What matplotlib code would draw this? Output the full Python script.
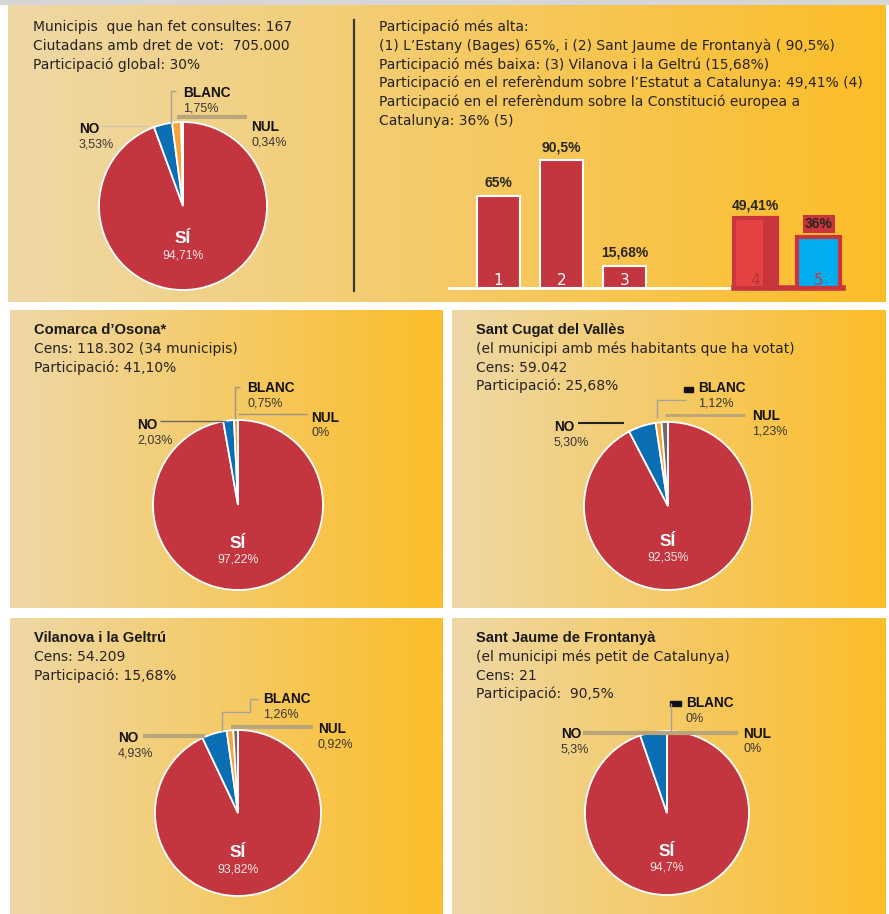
import matplotlib
matplotlib.use('Agg')
import matplotlib.pyplot as plt
import numpy as np
from matplotlib.patches import Rectangle
from matplotlib.colors import to_rgb

# ---------------- data ----------------
categories = ['SÍ', 'NO', 'BLANC', 'NUL']

global_pct = [94.71, 3.53, 1.75, 0.34]
global_lbl = ['94,71%', '3,53%', '1,75%', '0,34%']

osona_pct = [97.22, 2.03, 0.75, 0.0]
osona_lbl = ['97,22%', '2,03%', '0,75%', '0%']

cugat_pct = [92.35, 5.30, 1.12, 1.23]
cugat_lbl = ['92,35%', '5,30%', '1,12%', '1,23%']

vilanova_pct = [93.82, 4.93, 1.26, 0.92]
vilanova_lbl = ['93,82%', '4,93%', '1,26%', '0,92%']

jaume_pct = [94.7, 5.3, 0.0, 0.0]
jaume_lbl = ['94,7%', '5,3%', '0%', '0%']

bar_ids = ['1', '2', '3', '4', '5']
bar_pct = [65, 90.5, 15.68, 49.41, 36]
bar_lbl = ['65%', '90,5%', '15,68%', '49,41%', '36%']

top_left_lines = ["Municipis  que han fet consultes: 167",
                  "Ciutadans amb dret de vot:  705.000",
                  "Participació global: 30%"]
top_right_lines = ["Participació més alta:",
                   "(1) L\u2019Estany (Bages) 65%, i (2) Sant Jaume de Frontanyà ( 90,5%)",
                   "Participació més baixa: (3) Vilanova i la Geltrú (15,68%)",
                   "Participació en el referèndum sobre l\u2019Estatut a Catalunya: 49,41% (4)",
                   "Participació en el referèndum sobre la Constitució europea a",
                   "Catalunya: 36% (5)"]
osona_head = ["Comarca d\u2019Osona*", "Cens: 118.302 (34 municipis)", "Participació: 41,10%"]
cugat_head = ["Sant Cugat del Vallès", "(el municipi amb més habitants que ha votat)",
              "Cens: 59.042", "Participació: 25,68%"]
vilanova_head = ["Vilanova i la Geltrú", "Cens: 54.209", "Participació: 15,68%"]
jaume_head = ["Sant Jaume de Frontanyà", "(el municipi més petit de Catalunya)",
              "Cens: 21", "Participació:  90,5%"]

# ---------------- style ----------------
W, H = 889, 914
C_SI, C_NO, C_BL, C_NUL = '#C4363F', '#0A6EB4', '#F7A338', '#6B6B6B'
pie_colors = [C_SI, C_NO, C_BL, C_NUL]
TXT = '#262220'
LBL = '#141210'
VAL = '#3a3632'
TAN = '#B8A67A'
BODY = ['DejaVu Sans']
HEAD = ['Liberation Sans', 'DejaVu Sans']

fig = plt.figure(figsize=(W / 100, H / 100), dpi=100)
fig.patch.set_facecolor('white')
bg = fig.add_axes([0, 0, 1, 1], zorder=0)
bg.axis('off')

c0 = np.array(to_rgb('#EED8A6'))
c1 = np.array(to_rgb('#FCBD28'))


def panel(x0, y0, x1, y1):
    t = np.linspace(0, 1, 256)[None, :, None]
    img = c0 * (1 - t) + c1 * t
    bg.imshow(img, extent=[x0, x1, y1, y0], aspect='auto',
              interpolation='bilinear', zorder=0)


bg.add_patch(Rectangle((0, 0), W, 4, color='#D6D6D6', zorder=0))
panel(8, 5, 886, 302)
panel(10, 310, 443, 608)
panel(452, 310, 886, 608)
panel(10, 618, 443, 914)
panel(452, 618, 886, 914)
bg.set_xlim(0, W)
bg.set_ylim(H, 0)

# overlay for texts and leader lines
ov = fig.add_axes([0, 0, 1, 1], zorder=10)
ov.patch.set_alpha(0)
ov.axis('off')
ov.set_xlim(0, W)
ov.set_ylim(H, 0)


def text_block(x, y0, lines, bold_first=False, step=18.8, size=10.0):
    for i, s in enumerate(lines):
        if bold_first and i == 0:
            ov.text(x, y0, s, ha='left', va='baseline', color='#1c1a18',
                    fontsize=10.6, family=HEAD, fontweight='bold')
        else:
            ov.text(x, y0 + i * step, s, ha='left', va='baseline', color=TXT,
                    fontsize=size, family=BODY)


text_block(33, 31, top_left_lines)
text_block(379, 31, top_right_lines)
text_block(34, 334, osona_head, bold_first=True)
text_block(476, 334, cugat_head, bold_first=True)
text_block(34, 642, vilanova_head, bold_first=True)
text_block(476, 642, jaume_head, bold_first=True)

# divider
ov.plot([354, 354], [20, 291], color='#3a3a3a', lw=1.6)


def line(pts, color='#A8A29A', lw=1.0):
    xs, ys = zip(*pts)
    ov.plot(xs, ys, color=color, lw=lw, solid_capstyle='butt')


def pie(cx, cy, r, vals, lbls, pos):
    a = fig.add_axes([(cx - r) / W, 1 - (cy + r) / H, 2 * r / W, 2 * r / H], zorder=5)
    wedges, _ = a.pie(vals, colors=pie_colors, startangle=90, counterclock=False,
                      radius=1, wedgeprops=dict(edgecolor='white', linewidth=1.3))
    for w in wedges:
        w.set_clip_on(False)
    a.set_xlim(-1, 1)
    a.set_ylim(-1, 1)
    a.set_aspect('auto')
    a.axis('off')
    (six, siy), (nox, noy), (blx, bly), (nux, nuy) = pos
    ov.text(six, siy, categories[0], ha='center', va='baseline', color='white',
            fontsize=12.5, fontweight='bold', family=HEAD)
    ov.text(six, siy + 15, lbls[0], ha='center', va='baseline', color='#F4E6E6',
            fontsize=8.8, family=HEAD)
    for (x, y), k in [((nox, noy), 1), ((blx, bly), 2), ((nux, nuy), 3)]:
        ov.text(x, y, categories[k], ha='left', va='baseline', color=LBL,
                fontsize=9.8, fontweight='bold', family=HEAD)
        ov.text(x, y + 14.5, lbls[k], ha='left', va='baseline', color=VAL,
                fontsize=9, family=HEAD)


# global pie
pie(183, 206, 84, global_pct, global_lbl,
    [(183, 243), (79, 133), (183, 97), (251, 131)])
line([(100, 126), (147, 126)], color='#CFC7B5')
line([(176, 91), (171, 91), (171, 124)], color='#A8A29A')
line([(177, 117), (247, 117)], color=TAN, lw=3)

# Osona
pie(238, 505, 85, osona_pct, osona_lbl,
    [(238, 548), (137, 429), (247, 392), (311, 422)])
line([(160, 421), (226, 421)], color='#6a6560')
line([(240, 387), (235, 387), (235, 419)], color='#9a948a')
line([(238, 414), (307, 414)], color='#9a948a')

# Sant Cugat
pie(668, 506, 84, cugat_pct, cugat_lbl,
    [(668, 546), (554, 431), (698, 392), (752, 420)])
line([(578, 423), (624, 423)], color='#222222', lw=1.5)
line([(686, 400), (657, 400), (657, 418)], color='#A8A29A')
ov.add_patch(Rectangle((684, 387), 9, 5, color='#111111'))
line([(665, 415), (745, 415)], color=TAN, lw=2)

# Vilanova
pie(238, 813, 83, vilanova_pct, vilanova_lbl,
    [(238, 857), (118, 742), (263, 703), (318, 733)])
line([(143, 736), (205, 736)], color=TAN, lw=3)
line([(258, 699), (250, 699), (250, 712), (222, 712), (222, 731)], color='#A8A29A')
line([(231, 727), (313, 727)], color=TAN, lw=3)

# Sant Jaume
pie(667, 813, 82, jaume_pct, jaume_lbl,
    [(667, 856), (561, 738), (686, 707), (743, 738)])
line([(583, 733), (738, 733)], color=TAN, lw=3)
ov.add_patch(Rectangle((670, 701), 11, 5, color='#111111'))
line([(671, 703), (671, 732)], color='#A8A29A')

# ---------------- bars ----------------
PX_UNIT = 63.0
PX_PCT = 1.41
BASE_Y, TOP_Y = 288, 130
X_LEFT, X_RIGHT = 449, 872
x_first = 498.5
bax = fig.add_axes([X_LEFT / W, 1 - BASE_Y / H, (X_RIGHT - X_LEFT) / W,
                    (BASE_Y - TOP_Y) / H], zorder=5)
bax.set_xlim((X_LEFT - x_first) / PX_UNIT, (X_RIGHT - x_first) / PX_UNIT)
bax.set_ylim(0, (BASE_Y - TOP_Y) / PX_PCT)
bax.axis('off')

xpos = [0, 1, 2, 4.08, 5.08]
bw = 0.69
face = [C_SI, C_SI, C_SI, '#E54242', '#00AEEF']
edge = ['white', 'white', 'white', '#C8353D', '#C8353D']
lws = [1.5, 1.5, 1.5, 3, 3]
left_end = xpos[3] - bw / 2
bax.plot([(X_LEFT - x_first) / PX_UNIT, left_end], [0, 0], color='white', lw=2,
         clip_on=False, zorder=1)
bax.plot([left_end, xpos[4] + bw / 2 + 0.05], [0, 0], color='#C8353D', lw=4,
         clip_on=False, zorder=1)
bars = bax.bar(xpos, bar_pct, width=bw, color=face, zorder=2)
for b, ec, lw in zip(bars, edge, lws):
    b.set_edgecolor(ec)
    b.set_linewidth(lw)
    b.set_clip_on(False)
bax.bar(xpos[3] + bw / 2 - 0.12, bar_pct[3], width=0.2, color='#C8353D',
        zorder=2.5, clip_on=False)

id_colors = ['white', 'white', 'white', '#B7353A', '#C8353D']
for x, v, lab, idc, lbl in zip(xpos, bar_pct, bar_ids, id_colors, bar_lbl):
    bax.text(x, 2.2, lab, ha='center', va='baseline', color=idc, fontsize=11,
             family=BODY, zorder=4)
    kw = {}
    if lab == '5':
        kw['bbox'] = dict(boxstyle='square,pad=0.15', fc='#C8353D', ec='none')
    bax.annotate(lbl, (x, v), xytext=(0, 6.5), textcoords='offset points',
                 ha='center', va='baseline', color='#2a2620', fontsize=10,
                 fontweight='bold', family=HEAD, zorder=4, **kw)

fig.savefig('out.png', dpi=100, facecolor='white')
